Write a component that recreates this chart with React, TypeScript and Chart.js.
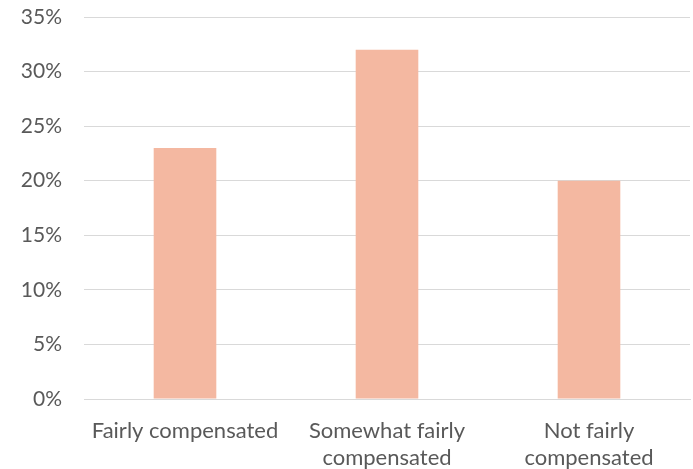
import React, { useEffect, useRef } from "react";
import { Chart, registerables } from "chart.js";

Chart.register(...registerables);

const categories: (string | string[])[] = [
  "Fairly compensated",
  ["Somewhat fairly", "compensated"],
  ["Not fairly", "compensated"],
];
const values: number[] = [23, 32, 20];
const yTicks: number[] = [0, 5, 10, 15, 20, 25, 30, 35];

export default function App() {
  const ref = useRef<HTMLCanvasElement | null>(null);
  useEffect(() => {
    document.body.style.margin = "0";
    const ctx = ref.current!;
    const chart = new Chart(ctx, {
      type: "bar",
      data: {
        labels: categories,
        datasets: [
          {
            data: values,
            backgroundColor: "#F4B8A1",
            barPercentage: 0.31,
            categoryPercentage: 1,
          },
        ],
      },
      options: {
        animation: false,
        responsive: false,
        layout: { padding: { top: 17, right: 3, left: 0, bottom: 0 } },
        plugins: { legend: { display: false }, tooltip: { enabled: false } },
        scales: {
          x: {
            grid: { display: false, drawTicks: false },
            border: { display: true, color: "#d9d9d9", width: 1 },
            ticks: {
              color: "#595959",
              font: { family: "Lato", size: 22, lineHeight: 1.23 },
              padding: 18,
              maxRotation: 0,
              autoSkip: false,
            },
            afterFit: (s: any) => {
              s.height = 70;
              s.paddingLeft = 0;
              s.paddingRight = 0;
            },
          },
          y: {
            min: 0,
            max: 35,
            afterBuildTicks: (s: any) => {
              s.ticks = yTicks.map((v) => ({ value: v }));
            },
            grid: { color: "#d9d9d9", lineWidth: 1, drawTicks: false },
            border: { display: false },
            ticks: {
              color: "#595959",
              font: { family: "Lato", size: 21 },
              padding: 22,
              callback: (v: any) => v + "%",
            },
            afterFit: (s: any) => {
              s.width = 84;
              s.paddingTop = 0;
              s.paddingBottom = 0;
            },
          },
        },
      },
    });
    return () => chart.destroy();
  }, []);
  return <canvas ref={ref} width={693} height={469} style={{ display: "block" }} />;
}
